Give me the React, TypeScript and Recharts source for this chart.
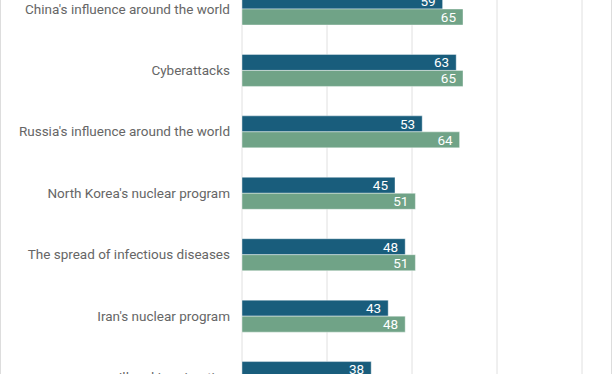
import { BarChart, Bar, XAxis, YAxis, CartesianGrid, LabelList } from "recharts";

const categories = [
  "China's influence around the world",
  "Cyberattacks",
  "Russia's influence around the world",
  "North Korea's nuclear program",
  "The spread of infectious diseases",
  "Iran's nuclear program",
  "Illegal immigration",
];
const firstValues = [59, 63, 53, 45, 48, 43, 38];
const secondValues = [65, 65, 64, 51, 51, 48, 44];
const gridTicks = [0, 25, 50, 75, 100];

const data = categories.map((name, i) => ({
  name,
  first: firstValues[i],
  second: secondValues[i],
}));

export default function App() {
  return (
    <div
      style={{
        position: "fixed",
        top: 0,
        left: 0,
        width: 612,
        height: 374,
        overflow: "hidden",
        background: "#fff",
        fontFamily: "Roboto, sans-serif",
      }}
    >
      <div style={{ position: "absolute", left: 0, top: 0, bottom: 0, width: 1, background: "#dddddd" }} />
      <div style={{ position: "absolute", right: 0, top: 0, bottom: 0, width: 1, background: "#dddddd" }} />
      <div style={{ position: "absolute", left: 0, top: -22.5 }}>
        <BarChart
          width={612}
          height={430}
          data={data}
          layout="vertical"
          margin={{ top: 0, right: 30, left: 0, bottom: 0 }}
          barSize={16}
          barGap={0}
        >
          <CartesianGrid horizontal={false} vertical={true} stroke="#e0e0e0" />
          <XAxis type="number" domain={[0, 100]} ticks={gridTicks} hide />
          <YAxis
            type="category"
            dataKey="name"
            width={242}
            axisLine={false}
            tickLine={false}
            tickMargin={6}
            tick={{ fill: "#666666", fontSize: 13.5, fontFamily: "Roboto" }}
          />
          <Bar dataKey="first" fill="#195d7c" stroke="#ffffff" strokeOpacity={0.4} isAnimationActive={false}>
            <LabelList
              dataKey="first"
              position="insideRight"
              offset={7}
              fill="#ffffff"
              fontSize={13.5}
              fontFamily="Roboto"
            />
          </Bar>
          <Bar dataKey="second" fill="#70a387" stroke="#ffffff" strokeOpacity={0.4} isAnimationActive={false}>
            <LabelList
              dataKey="second"
              position="insideRight"
              offset={7}
              fill="#ffffff"
              fontSize={13.5}
              fontFamily="Roboto"
            />
          </Bar>
        </BarChart>
      </div>
    </div>
  );
}
